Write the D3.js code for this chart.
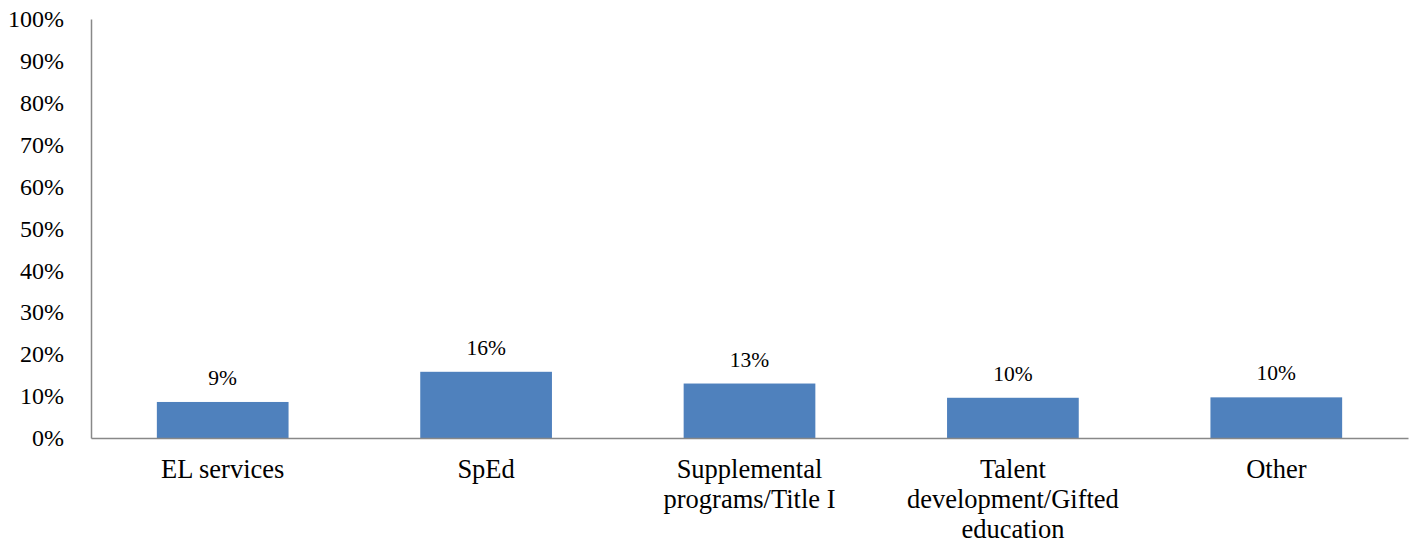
<!DOCTYPE html>
<html>
<head>
<meta charset="utf-8">
<script src="https://cdn.jsdelivr.net/npm/d3@7"></script>
<style>
  html, body { margin: 0; padding: 0; background: #fff; }
  svg { display: block; }
  text { font-family: "Liberation Serif", "Times New Roman", serif; fill: #000; }
</style>
</head>
<body>
<svg id="chart" width="1412" height="543"></svg>
<script>
const categories = [
  ["EL services"],
  ["SpEd"],
  ["Supplemental", "programs/Title I"],
  ["Talent", "development/Gifted", "education"],
  ["Other"]
];
const values = [0.086, 0.158, 0.130, 0.096, 0.097];
const yTicks = [0, 0.1, 0.2, 0.3, 0.4, 0.5, 0.6, 0.7, 0.8, 0.9, 1.0];

const svg = d3.select("#chart");
const margin = { left: 91, right: 4, top: 19, bottom: 105 };
const W = 1412, H = 543;

const x = d3.scaleBand()
  .domain(d3.range(categories.length))
  .range([margin.left, W - margin.right])
  .paddingInner(0.5)
  .paddingOuter(0.25);

const y = d3.scaleLinear().domain([0, 1]).range([H - margin.bottom, margin.top]);
const fmt = d3.format(".0%");

// bars
svg.append("g").selectAll("rect")
  .data(values)
  .join("rect")
  .attr("x", (d, i) => x(i))
  .attr("y", d => y(d))
  .attr("width", x.bandwidth())
  .attr("height", d => y(0) - y(d))
  .attr("fill", "#4F81BD");

// value labels
svg.append("g").selectAll("text")
  .data(values)
  .join("text")
  .attr("x", (d, i) => x(i) + x.bandwidth() / 2)
  .attr("y", d => y(d) - 17)
  .attr("text-anchor", "middle")
  .attr("font-size", 21.5)
  .text(d => fmt(d));

// y axis
const yAxis = d3.axisLeft(y).tickValues(yTicks).tickFormat(fmt).tickSize(0).tickPadding(27);
const gy = svg.append("g").attr("transform", `translate(${margin.left},0)`).call(yAxis);
gy.attr("font-family", null).attr("font-size", null);
gy.select(".domain").attr("stroke", "#888").attr("stroke-width", 1.5);
gy.selectAll("text").attr("font-size", 24).attr("fill", "#000");

// x axis
const xAxis = d3.axisBottom(x).tickSize(0).tickFormat("");
const gx = svg.append("g").attr("transform", `translate(0,${y(0)})`).call(xAxis);
gx.select(".domain").attr("stroke", "#888").attr("stroke-width", 1.5);

// category labels
const cl = svg.append("g").selectAll("text")
  .data(categories)
  .join("text")
  .attr("x", (d, i) => x(i) + x.bandwidth() / 2)
  .attr("y", y(0) + 40)
  .attr("text-anchor", "middle")
  .attr("font-size", 26.5);
cl.each(function(lines) {
  const t = d3.select(this);
  const cx = t.attr("x");
  lines.forEach((ln, j) => {
    t.append("tspan").attr("x", cx).attr("dy", j === 0 ? 0 : 30).text(ln);
  });
});
</script>
</body>
</html>
